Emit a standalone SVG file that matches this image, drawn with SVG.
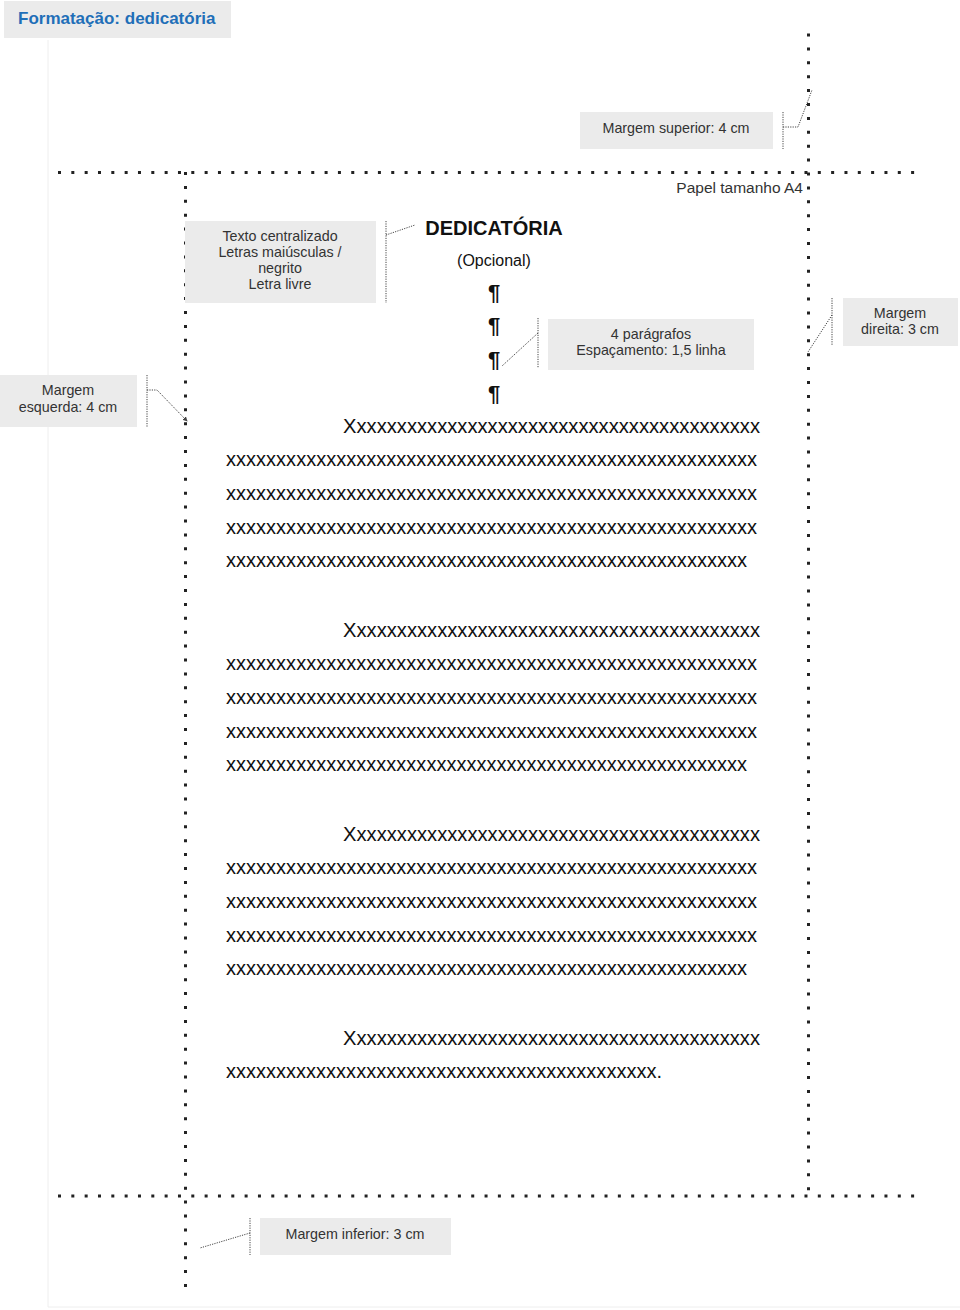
<svg xmlns="http://www.w3.org/2000/svg" width="960" height="1310" viewBox="0 0 960 1310">
<style>
.box{fill:#ebebeb}
.lbl{font-family:"Liberation Sans",Arial,sans-serif;font-size:14.3px;fill:#333;text-anchor:middle}
.dots{stroke:#222;stroke-width:3;stroke-dasharray:3 10.33;fill:none}
.dotsv{stroke:#222;stroke-width:3;stroke-dasharray:3 10.9;fill:none}
.con{stroke:#444;stroke-width:1;stroke-dasharray:1.2 1.2;fill:none}
.xx{font-family:"Liberation Sans",Arial,sans-serif;font-size:20px;fill:#111}
.pil{font-family:"Liberation Sans",Arial,sans-serif;font-size:22px;font-weight:bold;fill:#111;text-anchor:middle}
</style>
<defs>
<marker id="ah" viewBox="0 0 6 6" refX="5" refY="3" markerWidth="5" markerHeight="5" orient="auto">
<path d="M0,0 L6,3 L0,6 z" fill="#444"/>
</marker>
</defs>
<rect width="960" height="1310" fill="#fff"/>
<g id="page-edge">
<line x1="48" y1="40" x2="48" y2="1307" stroke="#eeeeee" stroke-width="1"/>
<line x1="48" y1="1307" x2="960" y2="1307" stroke="#eeeeee" stroke-width="1"/>
</g>
<g id="margins">
<line class="dots" x1="58" y1="172.5" x2="915" y2="172.5"/>
<line class="dots" x1="58" y1="1196" x2="915" y2="1196"/>
<line class="dotsv" x1="185.5" y1="172" x2="185.5" y2="1298"/>
<line class="dotsv" x1="808.5" y1="33.5" x2="808.5" y2="1200"/>
</g>
<g id="title">
<rect x="4" y="1" width="227" height="37" fill="#ebebeb"/>
<text x="18" y="24" font-family="Liberation Sans,Arial,sans-serif" font-size="17" font-weight="bold" fill="#1f6fb8">Formatação: dedicatória</text>
</g>
<g id="papel">
<text x="803" y="193" font-family="Liberation Sans,Arial,sans-serif" font-size="15.5" fill="#333" text-anchor="end">Papel tamanho A4</text>
</g>
<g id="margem-superior">
<rect class="box" x="580" y="112" width="193" height="37"/>
<text class="lbl" x="676" y="132.5">Margem superior: 4 cm</text>
</g>
<g id="texto-centralizado">
<rect class="box" x="185" y="221" width="191" height="82"/>
<text class="lbl" x="280" y="241">Texto centralizado</text>
<text class="lbl" x="280" y="257">Letras maiúsculas /</text>
<text class="lbl" x="280" y="273">negrito</text>
<text class="lbl" x="280" y="289">Letra livre</text>
</g>
<g id="quatro-paragrafos">
<rect class="box" x="548" y="319" width="206" height="51"/>
<text class="lbl" x="651" y="339">4 parágrafos</text>
<text class="lbl" x="651" y="355">Espaçamento: 1,5 linha</text>
</g>
<g id="margem-direita">
<rect class="box" x="843" y="298" width="115" height="48"/>
<text class="lbl" x="900" y="318">Margem</text>
<text class="lbl" x="900" y="334">direita: 3 cm</text>
</g>
<g id="margem-esquerda">
<rect class="box" x="0" y="375" width="137" height="52"/>
<text class="lbl" x="68" y="395">Margem</text>
<text class="lbl" x="68" y="412">esquerda: 4 cm</text>
</g>
<g id="margem-inferior">
<rect class="box" x="260" y="1218" width="191" height="37"/>
<text class="lbl" x="355" y="1239">Margem inferior: 3 cm</text>
</g>
<g id="connectors">
<path class="con" d="M783,112 V149 M783,127 H798 L812,90"/>
<path class="con" d="M386,221 V303 M386,235 L415,225"/>
<path class="con" d="M538,318 V368 M538,333 L502,366"/>
<path class="con" d="M832,298 V345 M832,315 L808,352"/>
<path class="con" d="M147,375 V427 M147,390 H157 L187,421" marker-end="url(#ah)"/>
<path class="con" d="M250,1218 V1255 M250,1233 L200,1248"/>
</g>
<g id="conteudo">
<text x="494" y="235" font-family="Liberation Sans,Arial,sans-serif" font-size="20" font-weight="bold" fill="#111" text-anchor="middle">DEDICATÓRIA</text>
<text x="494" y="266" font-family="Liberation Sans,Arial,sans-serif" font-size="16" fill="#111" text-anchor="middle">(Opcional)</text>
<text class="pil" x="494" y="300">¶</text>
<text class="pil" x="494" y="333">¶</text>
<text class="pil" x="494" y="367">¶</text>
<text class="pil" x="494" y="401">¶</text>

<text class="xx" x="343" y="433" textLength="417" lengthAdjust="spacingAndGlyphs">Xxxxxxxxxxxxxxxxxxxxxxxxxxxxxxxxxxxxxxxxx</text>
<text class="xx" x="226" y="466" textLength="531" lengthAdjust="spacingAndGlyphs">xxxxxxxxxxxxxxxxxxxxxxxxxxxxxxxxxxxxxxxxxxxxxxxxxxxxx</text>
<text class="xx" x="226" y="500" textLength="531" lengthAdjust="spacingAndGlyphs">xxxxxxxxxxxxxxxxxxxxxxxxxxxxxxxxxxxxxxxxxxxxxxxxxxxxx</text>
<text class="xx" x="226" y="534" textLength="531" lengthAdjust="spacingAndGlyphs">xxxxxxxxxxxxxxxxxxxxxxxxxxxxxxxxxxxxxxxxxxxxxxxxxxxxx</text>
<text class="xx" x="226" y="567" textLength="521" lengthAdjust="spacingAndGlyphs">xxxxxxxxxxxxxxxxxxxxxxxxxxxxxxxxxxxxxxxxxxxxxxxxxxxx</text>

<text class="xx" x="343" y="637" textLength="417" lengthAdjust="spacingAndGlyphs">Xxxxxxxxxxxxxxxxxxxxxxxxxxxxxxxxxxxxxxxxx</text>
<text class="xx" x="226" y="670" textLength="531" lengthAdjust="spacingAndGlyphs">xxxxxxxxxxxxxxxxxxxxxxxxxxxxxxxxxxxxxxxxxxxxxxxxxxxxx</text>
<text class="xx" x="226" y="704" textLength="531" lengthAdjust="spacingAndGlyphs">xxxxxxxxxxxxxxxxxxxxxxxxxxxxxxxxxxxxxxxxxxxxxxxxxxxxx</text>
<text class="xx" x="226" y="738" textLength="531" lengthAdjust="spacingAndGlyphs">xxxxxxxxxxxxxxxxxxxxxxxxxxxxxxxxxxxxxxxxxxxxxxxxxxxxx</text>
<text class="xx" x="226" y="771" textLength="521" lengthAdjust="spacingAndGlyphs">xxxxxxxxxxxxxxxxxxxxxxxxxxxxxxxxxxxxxxxxxxxxxxxxxxxx</text>

<text class="xx" x="343" y="841" textLength="417" lengthAdjust="spacingAndGlyphs">Xxxxxxxxxxxxxxxxxxxxxxxxxxxxxxxxxxxxxxxxx</text>
<text class="xx" x="226" y="874" textLength="531" lengthAdjust="spacingAndGlyphs">xxxxxxxxxxxxxxxxxxxxxxxxxxxxxxxxxxxxxxxxxxxxxxxxxxxxx</text>
<text class="xx" x="226" y="908" textLength="531" lengthAdjust="spacingAndGlyphs">xxxxxxxxxxxxxxxxxxxxxxxxxxxxxxxxxxxxxxxxxxxxxxxxxxxxx</text>
<text class="xx" x="226" y="942" textLength="531" lengthAdjust="spacingAndGlyphs">xxxxxxxxxxxxxxxxxxxxxxxxxxxxxxxxxxxxxxxxxxxxxxxxxxxxx</text>
<text class="xx" x="226" y="975" textLength="521" lengthAdjust="spacingAndGlyphs">xxxxxxxxxxxxxxxxxxxxxxxxxxxxxxxxxxxxxxxxxxxxxxxxxxxx</text>

<text class="xx" x="343" y="1045" textLength="417" lengthAdjust="spacingAndGlyphs">Xxxxxxxxxxxxxxxxxxxxxxxxxxxxxxxxxxxxxxxxx</text>
<text class="xx" x="226" y="1078" textLength="436" lengthAdjust="spacingAndGlyphs">xxxxxxxxxxxxxxxxxxxxxxxxxxxxxxxxxxxxxxxxxxx.</text>
</g>
</svg>
